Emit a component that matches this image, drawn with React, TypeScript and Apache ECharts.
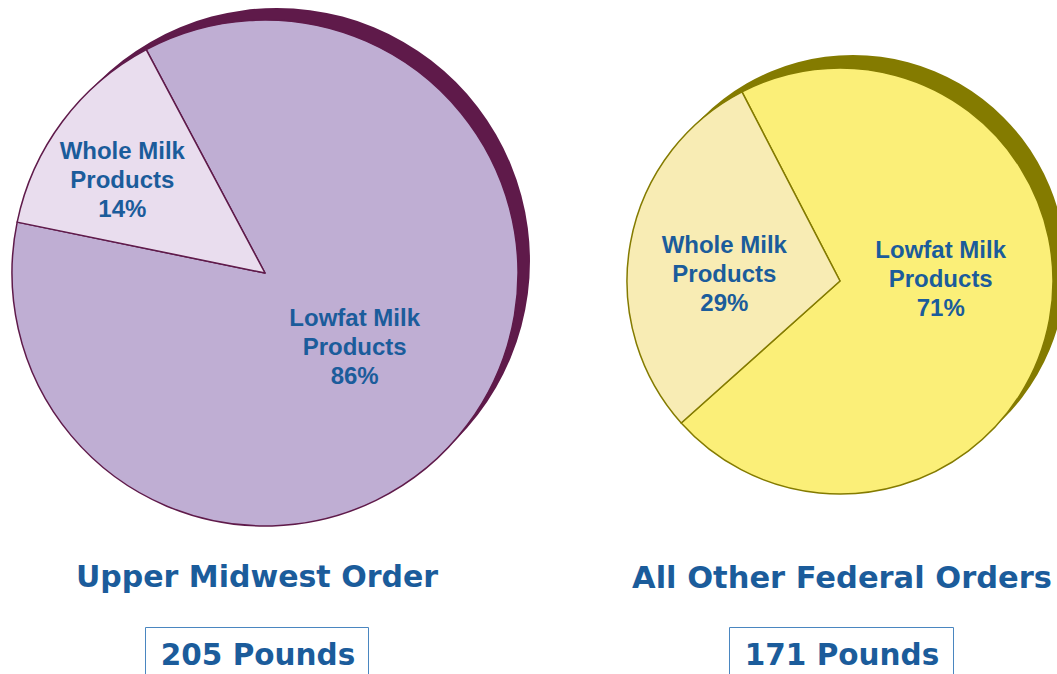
import React, { useEffect, useRef } from "react";
import * as echarts from "echarts";

const categories = ["Lowfat Milk Products", "Whole Milk Products"];
const upperMidwestShares = [86, 14];
const otherOrdersShares = [71, 29];
const chartTitles = ["Upper Midwest Order", "All Other Federal Orders"];
const poundsLabels = ["205 Pounds", "171 Pounds"];

const TEXT_BLUE = "#1b5c9b";
const TITLE_FONT = "'Comic Sans MS', 'DejaVu Sans', sans-serif";

export default function App() {
  const ref = useRef<HTMLDivElement>(null);
  useEffect(() => {
    if (!ref.current) return;
    const chart = echarts.init(ref.current, null, { renderer: "svg" });

    const labelStyle = {
      show: true,
      position: "inside" as const,
      color: TEXT_BLUE,
      fontFamily: "'Liberation Sans', Arial, sans-serif",
      fontWeight: "bold" as const,
      fontSize: 24,
      lineHeight: 29,
      formatter: (p: any) => p.name.replace(" Products", "\nProducts") + "\n" + p.value + "%",
    };

    const leftOffsets = [[-14, -4], [-39, -16]];
    const rightOffsets = [[-7, -22], [-8, 12]];

    const makeData = (vals: number[], colors: string[], offsets: number[][]) =>
      categories.map((c, i) => ({
        name: c,
        value: vals[i],
        itemStyle: { color: colors[i] },
        label: { offset: offsets[i] },
      }));

    const shadow = (center: number[], radius: number, color: string) => ({
      type: "pie",
      silent: true,
      center,
      radius,
      label: { show: false },
      labelLine: { show: false },
      itemStyle: { color, borderWidth: 0 },
      data: [{ name: "shadow", value: 1 }],
      z: 1,
    });

    const titleText = (x: number, y: number, text: string, size: number) => ({
      type: "text",
      x,
      y,
      style: {
        text,
        fill: TEXT_BLUE,
        font: `bold ${size}px ${TITLE_FONT}`,
        align: "center",
        verticalAlign: "middle",
      },
    });

    chart.setOption({
      animation: false,
      backgroundColor: "#ffffff",
      series: [
        shadow([277, 261], 253, "#5f1a4a"),
        {
          type: "pie",
          center: [265, 273],
          radius: 253,
          startAngle: 118,
          clockwise: true,
          label: labelStyle,
          labelLine: { show: false },
          itemStyle: { borderColor: "#5f1a4a", borderWidth: 1.5 },
          data: makeData(upperMidwestShares, ["#bfaed3", "#e9ddee"], leftOffsets),
          z: 2,
        },
        shadow([853, 268], 213, "#847b00"),
        {
          type: "pie",
          center: [840, 281],
          radius: 213,
          startAngle: 117.4,
          clockwise: true,
          label: labelStyle,
          labelLine: { show: false },
          itemStyle: { borderColor: "#847b00", borderWidth: 1.5 },
          data: makeData(otherOrdersShares, ["#fbef78", "#f8ecb4"], rightOffsets),
          z: 2,
        },
      ],
      graphic: [
        titleText(257, 576, chartTitles[0], 30),
        titleText(842, 577, chartTitles[1], 30.5),
        {
          type: "rect",
          shape: { x: 145.5, y: 627.5, width: 223, height: 60 },
          style: { fill: "none", stroke: "#4a86c0", lineWidth: 1 },
        },
        {
          type: "rect",
          shape: { x: 729.5, y: 627.5, width: 224, height: 60 },
          style: { fill: "none", stroke: "#4a86c0", lineWidth: 1 },
        },
        titleText(258, 655, poundsLabels[0], 29.5),
        titleText(842, 655, poundsLabels[1], 29.5),
      ],
    });
    return () => chart.dispose();
  }, []);

  return (
    <div
      ref={ref}
      style={{ position: "fixed", left: 0, top: 0, width: 1057, height: 674 }}
    />
  );
}
